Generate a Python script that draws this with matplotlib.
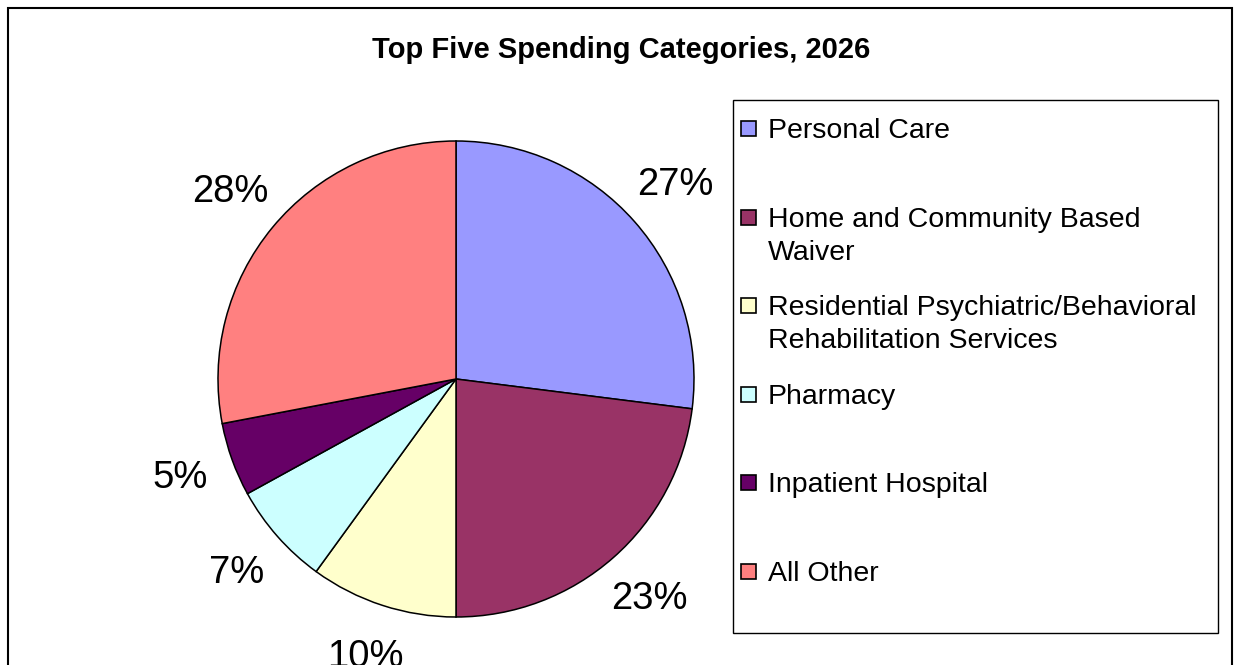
import matplotlib.pyplot as plt
from matplotlib.patches import Rectangle

plt.rcParams['font.family'] = ['Liberation Sans', 'DejaVu Sans']

categories = ['Personal Care',
              'Home and Community Based\nWaiver',
              'Residential Psychiatric/Behavioral\nRehabilitation Services',
              'Pharmacy',
              'Inpatient Hospital',
              'All Other']
shares = [27, 23, 10, 7, 5, 28]
colors = ['#9999FF', '#993366', '#FFFFCC', '#CCFFFF', '#660066', '#FF8080']
title = 'Top Five Spending Categories, 2026'

W, H = 1235, 665
fig = plt.figure(figsize=(W / 100, H / 100), dpi=100)


def fx(x):
    return x / W


def fy(y):
    return 1 - y / H


# outer chart border (bottom edge runs off the image)
fig.patches.append(Rectangle((fx(8), fy(700)), fx(1232) - fx(8), fy(8) - fy(700),
                             transform=fig.transFigure, fill=False, ec='black', lw=1.5))

fig.text(fx(621), fy(50), title, ha='center', va='center', fontsize=21, fontweight='bold')

# pie: centre (456, 379) px, radius 238 px
cx, cy, R, lim = 456, 379, 238, 1.4
half = R * lim
ax = fig.add_axes([fx(cx - half), fy(cy + half), 2 * half / W, 2 * half / H])
ax.pie(shares, colors=colors, startangle=90, counterclock=False,
       autopct=lambda p: '%.0f%%' % p, pctdistance=1.23,
       wedgeprops=dict(edgecolor='black', linewidth=1.1),
       textprops=dict(fontsize=27.5))
ax.set_xlim(-lim, lim)
ax.set_ylim(-lim, lim)
ax.set_aspect('equal')
ax.axis('off')

# legend box drawn by hand so every entry gets the same slot height
fig.patches.append(Rectangle((fx(733), fy(633)), fx(1218) - fx(733), fy(100) - fy(633),
                             transform=fig.transFigure, fill=False, ec='black', lw=1))
y0, step, lead = 128, 88.6, 33
for i, (lab, col) in enumerate(zip(categories, colors)):
    yc = y0 + i * step
    fig.patches.append(Rectangle((fx(741), fy(yc + 8)), 15 / W, 15 / H,
                                 transform=fig.transFigure, fc=col, ec='black', lw=1.2))
    for k, line in enumerate(lab.split('\n')):
        fig.text(fx(768), fy(yc + 10 + k * lead), line, ha='left', va='baseline',
                 fontsize=20.5)

fig.savefig('out.png', dpi=100)
